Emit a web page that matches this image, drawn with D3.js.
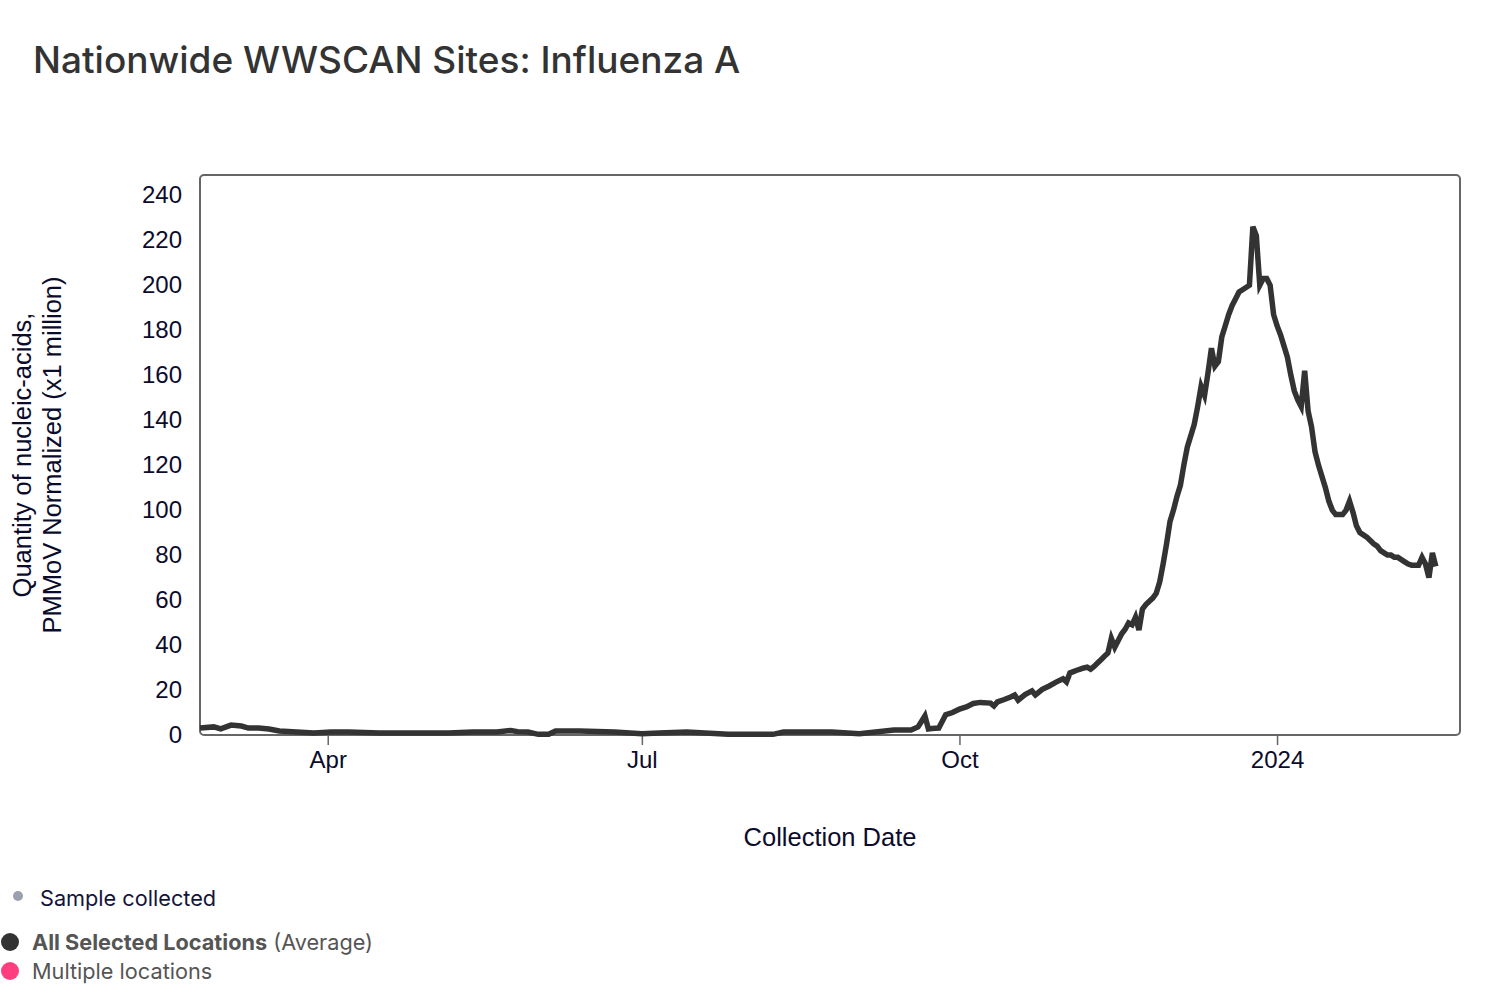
<!DOCTYPE html>
<html>
<head>
<meta charset="utf-8">
<script src="https://cdn.jsdelivr.net/npm/d3@7"></script>
<style>
  body { margin: 0; background: #fff; }
  svg { display: block; }
</style>
</head>
<body>
<div id="app"></div>
<script>
(function (d3) {
  'use strict'

  // influenza A average
  const dates = [
    '2023-02-23', '2023-02-27', '2023-03-01', '2023-03-04', '2023-03-07', '2023-03-09', '2023-03-12', '2023-03-15',
    '2023-03-18', '2023-03-23', '2023-03-28', '2023-04-02', '2023-04-07', '2023-04-16', '2023-04-26', '2023-05-06',
    '2023-05-13', '2023-05-20', '2023-05-24', '2023-05-26', '2023-05-29', '2023-06-01', '2023-06-04', '2023-06-06',
    '2023-06-13', '2023-06-23', '2023-07-01', '2023-07-06', '2023-07-14', '2023-07-26', '2023-08-08', '2023-08-11',
    '2023-08-25', '2023-09-02', '2023-09-12', '2023-09-17', '2023-09-19', '2023-09-20', '2023-09-21', '2023-09-22',
    '2023-09-23', '2023-09-24', '2023-09-25', '2023-09-26', '2023-09-27', '2023-09-28', '2023-09-29', '2023-09-30',
    '2023-10-01', '2023-10-03', '2023-10-05', '2023-10-07', '2023-10-10', '2023-10-11', '2023-10-12', '2023-10-14',
    '2023-10-16', '2023-10-17', '2023-10-18', '2023-10-20', '2023-10-22', '2023-10-23', '2023-10-25', '2023-10-27',
    '2023-10-29', '2023-10-31', '2023-11-01', '2023-11-02', '2023-11-03', '2023-11-04', '2023-11-05', '2023-11-06',
    '2023-11-07', '2023-11-08', '2023-11-09', '2023-11-10', '2023-11-11', '2023-11-12', '2023-11-13', '2023-11-14',
    '2023-11-15', '2023-11-16', '2023-11-17', '2023-11-18', '2023-11-19', '2023-11-20', '2023-11-21', '2023-11-22',
    '2023-11-23', '2023-11-24', '2023-11-25', '2023-11-26', '2023-11-27', '2023-11-28', '2023-11-29', '2023-11-30',
    '2023-12-01', '2023-12-02', '2023-12-03', '2023-12-04', '2023-12-05', '2023-12-06', '2023-12-07', '2023-12-08',
    '2023-12-09', '2023-12-10', '2023-12-11', '2023-12-12', '2023-12-13', '2023-12-14', '2023-12-15', '2023-12-16',
    '2023-12-17', '2023-12-18', '2023-12-19', '2023-12-20', '2023-12-21', '2023-12-22', '2023-12-23', '2023-12-24',
    '2023-12-25', '2023-12-26', '2023-12-27', '2023-12-28', '2023-12-29', '2023-12-30', '2023-12-31', '2024-01-01',
    '2024-01-02', '2024-01-03', '2024-01-04', '2024-01-05', '2024-01-06', '2024-01-07', '2024-01-08', '2024-01-09',
    '2024-01-10', '2024-01-11', '2024-01-12', '2024-01-13', '2024-01-14', '2024-01-15', '2024-01-16', '2024-01-17',
    '2024-01-18', '2024-01-19', '2024-01-20', '2024-01-21', '2024-01-22', '2024-01-23', '2024-01-24', '2024-01-25',
    '2024-01-26', '2024-01-27', '2024-01-28', '2024-01-29', '2024-01-30', '2024-01-31', '2024-02-01', '2024-02-02',
    '2024-02-03', '2024-02-04', '2024-02-05', '2024-02-06', '2024-02-07', '2024-02-08', '2024-02-09', '2024-02-10',
    '2024-02-11', '2024-02-12', '2024-02-13', '2024-02-14', '2024-02-15', '2024-02-16'
  ]

  const values = [
    3.1, 3.6, 2.7, 4.4, 4.0, 3.1, 3.1, 2.7,
    1.8, 1.3, 0.9, 1.3, 1.3, 0.9, 0.9, 0.9,
    1.3, 1.3, 2.0, 1.5, 1.3, 0.3, 0.3, 1.8,
    1.8, 1.3, 0.6, 0.9, 1.3, 0.3, 0.3, 1.3,
    1.3, 0.6, 2.2, 2.2, 3.6, 6.0, 8.5, 2.7,
    2.9, 3.0, 3.1, 6.0, 9.0, 9.5, 10.0, 10.8,
    11.5, 12.5, 14.0, 14.5, 14.2, 12.9, 14.7, 15.8,
    17.0, 17.8, 15.5, 18.0, 19.6, 17.8, 20.3, 21.8,
    23.5, 25.0, 23.6, 27.6, 28.2, 28.8, 29.3, 29.8,
    30.2, 29.3, 30.5, 32.0, 33.5, 35.0, 36.4, 43.0,
    39.0, 42.0, 45.0, 47.0, 49.8, 49.0, 52.4, 46.7,
    56.0, 58.0, 59.5, 60.9, 63.0, 68.0, 76.0, 85.0,
    95, 100, 106, 111, 120, 128, 133, 138,
    146, 155, 151, 161, 172, 164, 166, 177,
    182, 187, 191, 194, 197, 198, 199, 200,
    226, 222, 200, 203, 203, 200, 187, 182,
    178, 173, 168, 160, 153, 149, 146, 162,
    144, 137, 126, 120, 115, 110, 104, 100,
    98, 98, 98, 100, 104, 99, 93, 90,
    89, 88, 86.5, 85, 84, 82, 81, 80,
    80, 79, 79, 78, 77, 76, 75.5, 75.5,
    75.5, 79, 76, 70, 81, 75
  ]

  const yTicks = [0, 20, 40, 60, 80, 100, 120, 140, 160, 180, 200, 220, 240]
  const xTicks = ['2023-04-01', '2023-07-01', '2023-10-01', '2024-01-01']
  const xDomain = ['2023-02-23', '2024-02-23']
  const yMax = 249

  const legendItems = [
    { label: 'All Selected Locations', note: ' (Average)', color: '#333333' },
    { label: 'Multiple locations', note: '', color: '#ff3d7f' }
  ]

  const parse = d3.timeParse('%Y-%m-%d')
  const data = dates.map(function (d, i) { return { date: parse(d), value: values[i] } })

  const W = 1500
  const H = 1002
  const margin = { top: 175, right: 40, bottom: 267, left: 200 }
  const w = W - margin.left - margin.right
  const h = H - margin.top - margin.bottom

  const axisFont = '"Liberation Sans", Arial, sans-serif'
  const uiFont = 'Inter, "Open Sans", sans-serif'

  const svg = d3.select('#app').append('svg')
    .attr('width', W)
    .attr('height', H)

  // title
  svg.append('text')
    .attr('x', 33)
    .attr('y', 73)
    .style('font-family', uiFont)
    .style('font-size', '37px')
    .style('font-weight', 500)
    .style('fill', '#333')
    .text('Nationwide WWSCAN Sites: Influenza A')

  const g = svg.append('g')
    .attr('transform', 'translate(' + margin.left + ',' + margin.top + ')')

  const xScale = d3.scaleTime()
    .domain(xDomain.map(parse))
    .range([0, w])

  const yScale = d3.scaleLinear()
    .domain([0, yMax])
    .range([h, 0])

  // y axis labels only, no line
  const yAxis = d3.axisLeft(yScale)
    .tickValues(yTicks)
    .tickSize(0)
    .tickPadding(18)
  const gy = g.append('g').call(yAxis)
  gy.select('.domain').remove()
  gy.selectAll('text')
    .style('font-family', axisFont)
    .style('font-size', '24px')
    .style('fill', '#0b0b2b')

  // x axis
  const xAxis = d3.axisBottom(xScale)
    .tickValues(xTicks.map(parse))
    .tickFormat(function (d) {
      return d.getMonth() === 0 ? d3.timeFormat('%Y')(d) : d3.timeFormat('%b')(d)
    })
    .tickSize(10)
    .tickPadding(6)
  const gx = g.append('g')
    .attr('transform', 'translate(0,' + h + ')')
    .call(xAxis)
  gx.select('.domain').remove()
  gx.selectAll('line').style('stroke', '#666').style('stroke-width', 1.5)
  gx.selectAll('text')
    .style('font-family', axisFont)
    .style('font-size', '24px')
    .style('fill', '#0b0b2b')

  // frame
  g.append('rect')
    .attr('x', 0)
    .attr('y', 0)
    .attr('width', w)
    .attr('height', h)
    .attr('rx', 4)
    .style('fill', 'none')
    .style('stroke', '#666')
    .style('stroke-width', 2)

  // line
  const line = d3.line()
    .x(function (d) { return xScale(d.date) })
    .y(function (d) { return yScale(d.value) })

  g.append('path')
    .datum(data)
    .attr('d', line)
    .style('fill', 'none')
    .style('stroke', '#333')
    .style('stroke-width', 5.5)
    .style('stroke-linejoin', 'miter')

  // axis titles
  const yTitle = svg.append('text')
    .attr('transform', 'translate(38,455) rotate(-90)')
    .attr('text-anchor', 'middle')
    .style('font-family', axisFont)
    .style('font-size', '25.5px')
    .style('fill', '#0b0b2b')
  yTitle.append('tspan').attr('x', 0).attr('dy', -7).text('Quantity of nucleic-acids,')
  yTitle.append('tspan').attr('x', 0).attr('dy', 30).text('PMMoV Normalized (x1 million)')

  svg.append('text')
    .attr('x', 830)
    .attr('y', 846)
    .attr('text-anchor', 'middle')
    .style('font-family', axisFont)
    .style('font-size', '25.5px')
    .style('fill', '#0b0b2b')
    .text('Collection Date')

  // legend
  svg.append('circle')
    .attr('cx', 18)
    .attr('cy', 896)
    .attr('r', 5)
    .style('fill', '#9aa0ad')
  svg.append('text')
    .attr('x', 40)
    .attr('y', 906)
    .style('font-family', uiFont)
    .style('font-size', '21.7px')
    .style('fill', '#14143a')
    .text('Sample collected')

  const leg = svg.selectAll('.legend')
    .data(legendItems)
    .enter()
    .append('g')
    .attr('class', 'legend')
    .attr('transform', function (d, i) { return 'translate(0,' + (942 + i * 29) + ')' })

  leg.append('circle')
    .attr('cx', 10)
    .attr('cy', 0)
    .attr('r', 9)
    .style('fill', function (d) { return d.color })

  const lt = leg.append('text')
    .attr('x', 32)
    .attr('y', 8)
    .style('font-family', uiFont)
    .style('font-size', '21.7px')
    .style('fill', '#555')
  lt.append('tspan')
    .style('font-weight', function (d, i) { return i === 0 ? 700 : 400 })
    .text(function (d) { return d.label })
  lt.append('tspan')
    .text(function (d) { return d.note })

})(d3)
</script>
</body>
</html>
